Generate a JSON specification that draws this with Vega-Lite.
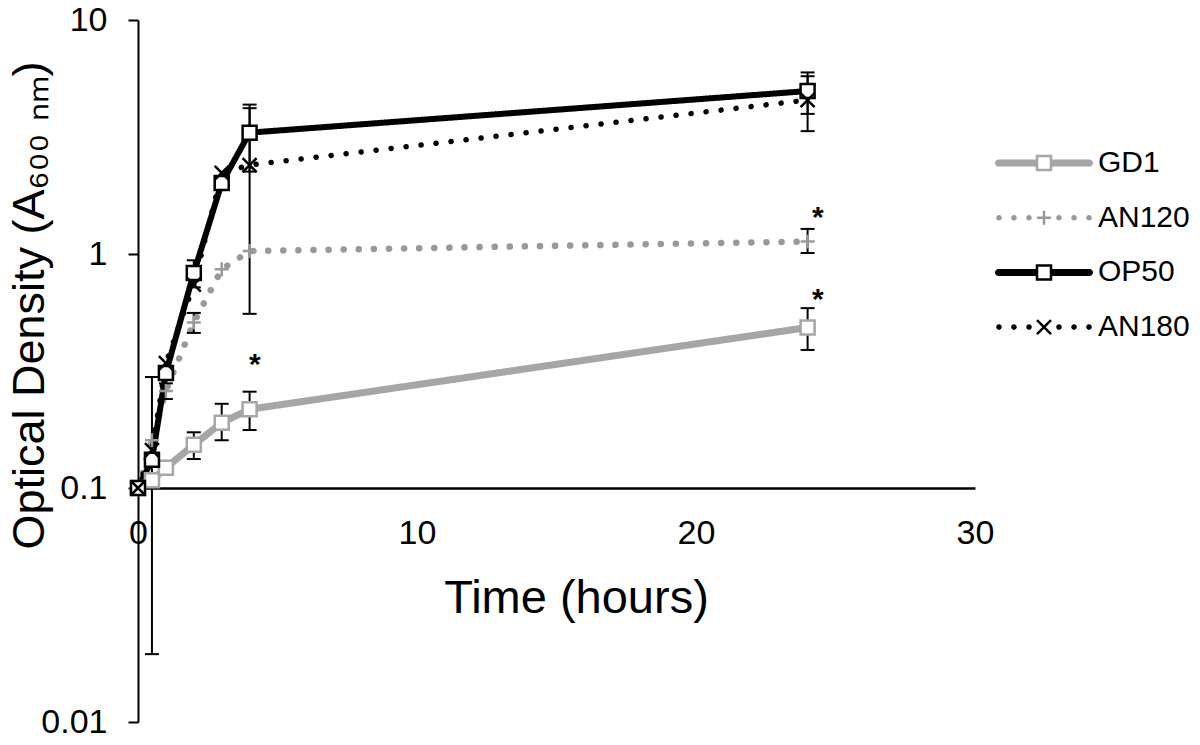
{
  "$schema": "https://vega.github.io/schema/vega-lite/v6.json",
  "width": 837,
  "height": 702,
  "autosize": {"type": "none"},
  "padding": {"left": 138, "top": 20, "right": 225, "bottom": 23},
  "background": "white",
  "config": {
    "view": {"stroke": null},
    "font": "Liberation Sans"
  },
  "datasets": {
    "growth": [
      {"strain": "GD1", "t": 0, "od": 0.1},
      {"strain": "GD1", "t": 0.5, "od": 0.108},
      {"strain": "GD1", "t": 1, "od": 0.122},
      {"strain": "GD1", "t": 2, "od": 0.153, "lo": 0.133, "hi": 0.173},
      {"strain": "GD1", "t": 3, "od": 0.19, "lo": 0.16, "hi": 0.229},
      {"strain": "GD1", "t": 4, "od": 0.217, "lo": 0.177, "hi": 0.258},
      {"strain": "GD1", "t": 24, "od": 0.485, "lo": 0.389, "hi": 0.587},
      {"strain": "AN120", "t": 0, "od": 0.1},
      {"strain": "AN120", "t": 0.5, "od": 0.16, "lo": 0.0195, "hi": 0.298},
      {"strain": "AN120", "t": 1, "od": 0.26, "lo": 0.24, "hi": 0.28},
      {"strain": "AN120", "t": 2, "od": 0.51, "lo": 0.46, "hi": 0.56},
      {"strain": "AN120", "t": 3, "od": 0.86},
      {"strain": "AN120", "t": 4, "od": 1.03},
      {"strain": "AN120", "t": 24, "od": 1.13, "lo": 1.01, "hi": 1.28},
      {"strain": "OP50", "t": 0, "od": 0.1},
      {"strain": "OP50", "t": 0.5, "od": 0.132},
      {"strain": "OP50", "t": 1, "od": 0.31},
      {"strain": "OP50", "t": 2, "od": 0.83, "lo": 0.72, "hi": 0.94},
      {"strain": "OP50", "t": 3, "od": 2.01},
      {"strain": "OP50", "t": 4, "od": 3.3, "lo": 2.25, "hi": 4.35},
      {"strain": "OP50", "t": 24, "od": 4.97, "lo": 3.97, "hi": 5.97},
      {"strain": "AN180", "t": 0, "od": 0.1},
      {"strain": "AN180", "t": 0.5, "od": 0.145},
      {"strain": "AN180", "t": 1, "od": 0.342},
      {"strain": "AN180", "t": 2, "od": 0.74},
      {"strain": "AN180", "t": 3, "od": 2.22},
      {"strain": "AN180", "t": 4, "od": 2.4, "lo": 0.555, "hi": 4.2},
      {"strain": "AN180", "t": 24, "od": 4.55, "lo": 3.35, "hi": 5.75}
    ],
    "stars": [
      {"t": 4.19, "od": 0.363, "label": "*"},
      {"t": 24.37, "od": 1.54, "label": "*"},
      {"t": 24.37, "od": 0.69, "label": "*"}
    ]
  },
  "data": {"name": "growth"},
  "resolve": {
    "scale": {"shape": "independent", "fill": "independent", "stroke": "independent"},
    "legend": {"shape": "independent", "fill": "independent", "stroke": "independent"}
  },
  "encoding": {
    "x": {
      "field": "t", "type": "quantitative",
      "scale": {"domain": [0, 30], "nice": false, "zero": false},
      "axis": {"values": [0, 10, 20, 30], "format": "d", "ticks": false, "tickSize": 0, "labelPadding": 28, "offset": -234, "domainColor": "black", "domainWidth": 2.5, "labelFont": "Liberation Sans", "labelFontSize": 34, "labelColor": "black", "labelFlush": false, "labelOverlap": false, "labelBound": false, "grid": false, "title": "Time (hours)", "titleFont": "Liberation Sans", "titleFontSize": 47, "titleFontWeight": "normal", "titleColor": "black", "titleX": 438, "titleY": 124, "titleBaseline": "alphabetic", "titleAlign": "center"}
    },
    "y": {
      "field": "od", "type": "quantitative",
      "scale": {"type": "log", "domain": [0.01, 10], "nice": false},
      "axis": {"values": [0.01, 0.1, 1, 10], "format": "~g", "tickSize": 10, "tickWidth": 2, "tickColor": "black", "domainColor": "black", "domainWidth": 2, "grid": false, "labelFont": "Liberation Sans", "labelFontSize": 34, "labelColor": "black", "labelPadding": 21, "labelFlush": false, "labelOverlap": false, "labelBound": false, "title": "Optical Density (A₆₀₀ ₙₘ)", "titleFont": "Liberation Sans", "titleFontSize": 45, "titleFontWeight": "normal", "titleColor": "black", "titleAngle": -90, "titleX": -95, "titleY": 285, "titleBaseline": "alphabetic", "titleAlign": "center"}
    }
  },
  "layer": [
    {
      "mark": {"type": "line", "strokeCap": "round", "strokeJoin": "round"},
      "encoding": {
        "color": {
          "field": "strain", "type": "nominal",
          "scale": {"domain": ["GD1", "AN120", "OP50", "AN180"], "range": ["#a6a6a6", "#999999", "#000000", "#000000"]},
          "legend": null
        },
        "strokeDash": {
          "field": "strain", "type": "nominal",
          "scale": {"domain": ["GD1", "AN120", "OP50", "AN180"], "range": [[1, 0], [0.1, 15], [1, 0], [0.1, 15]]},
          "legend": null
        },
        "strokeWidth": {
          "field": "strain", "type": "nominal",
          "scale": {"domain": ["GD1", "AN120", "OP50", "AN180"], "range": [7, 5.5, 7, 5.5]},
          "legend": null
        }
      }
    },
    {
      "mark": {"type": "rule", "color": "black", "strokeWidth": 2},
      "encoding": {
        "y": {"field": "lo", "type": "quantitative", "axis": {"values": [0.01, 0.1, 1, 10], "format": "~g", "tickSize": 10, "tickWidth": 2, "tickColor": "black", "domainColor": "black", "domainWidth": 2, "grid": false, "labelFont": "Liberation Sans", "labelFontSize": 34, "labelColor": "black", "labelPadding": 21, "labelFlush": false, "labelOverlap": false, "labelBound": false, "title": "Optical Density (A₆₀₀ ₙₘ)", "titleFont": "Liberation Sans", "titleFontSize": 45, "titleFontWeight": "normal", "titleColor": "black", "titleAngle": -90, "titleX": -95, "titleY": 285, "titleBaseline": "alphabetic", "titleAlign": "center"}},
        "y2": {"field": "hi"}
      }
    },
    {
      "mark": {"type": "tick", "orient": "horizontal", "color": "black", "size": 14, "thickness": 2, "opacity": 1},
      "encoding": {
        "y": {"field": "lo", "type": "quantitative", "axis": {"values": [0.01, 0.1, 1, 10], "format": "~g", "tickSize": 10, "tickWidth": 2, "tickColor": "black", "domainColor": "black", "domainWidth": 2, "grid": false, "labelFont": "Liberation Sans", "labelFontSize": 34, "labelColor": "black", "labelPadding": 21, "labelFlush": false, "labelOverlap": false, "labelBound": false, "title": "Optical Density (A₆₀₀ ₙₘ)", "titleFont": "Liberation Sans", "titleFontSize": 45, "titleFontWeight": "normal", "titleColor": "black", "titleAngle": -90, "titleX": -95, "titleY": 285, "titleBaseline": "alphabetic", "titleAlign": "center"}}
      }
    },
    {
      "mark": {"type": "tick", "orient": "horizontal", "color": "black", "size": 14, "thickness": 2, "opacity": 1},
      "encoding": {
        "y": {"field": "hi", "type": "quantitative", "axis": {"values": [0.01, 0.1, 1, 10], "format": "~g", "tickSize": 10, "tickWidth": 2, "tickColor": "black", "domainColor": "black", "domainWidth": 2, "grid": false, "labelFont": "Liberation Sans", "labelFontSize": 34, "labelColor": "black", "labelPadding": 21, "labelFlush": false, "labelOverlap": false, "labelBound": false, "title": "Optical Density (A₆₀₀ ₙₘ)", "titleFont": "Liberation Sans", "titleFontSize": 45, "titleFontWeight": "normal", "titleColor": "black", "titleAngle": -90, "titleX": -95, "titleY": 285, "titleBaseline": "alphabetic", "titleAlign": "center"}}
      }
    },
    {
      "mark": {"type": "point", "filled": true, "size": 196, "opacity": 0},
      "encoding": {
        "shape": {
          "field": "strain", "type": "nominal",
          "scale": {"domain": ["GD1", "AN120", "OP50", "AN180"], "range": [
            "M-6.5,-0.5H6.5A0.5,0.5 0 0,1 6.5,0.5H-6.5A0.5,0.5 0 0,1 -6.5,-0.5Z",
            "M-6.83,0a0.4,0.4 0 1,0 0.8,0a0.4,0.4 0 1,0 -0.8,0M-4.69,0a0.4,0.4 0 1,0 0.8,0a0.4,0.4 0 1,0 -0.8,0M-2.54,0a0.4,0.4 0 1,0 0.8,0a0.4,0.4 0 1,0 -0.8,0M1.74,0a0.4,0.4 0 1,0 0.8,0a0.4,0.4 0 1,0 -0.8,0M3.89,0a0.4,0.4 0 1,0 0.8,0a0.4,0.4 0 1,0 -0.8,0M6.03,0a0.4,0.4 0 1,0 0.8,0a0.4,0.4 0 1,0 -0.8,0",
            "M-6.5,-0.5H6.5A0.5,0.5 0 0,1 6.5,0.5H-6.5A0.5,0.5 0 0,1 -6.5,-0.5Z",
            "M-6.83,0a0.4,0.4 0 1,0 0.8,0a0.4,0.4 0 1,0 -0.8,0M-4.69,0a0.4,0.4 0 1,0 0.8,0a0.4,0.4 0 1,0 -0.8,0M-2.54,0a0.4,0.4 0 1,0 0.8,0a0.4,0.4 0 1,0 -0.8,0M1.74,0a0.4,0.4 0 1,0 0.8,0a0.4,0.4 0 1,0 -0.8,0M3.89,0a0.4,0.4 0 1,0 0.8,0a0.4,0.4 0 1,0 -0.8,0M6.03,0a0.4,0.4 0 1,0 0.8,0a0.4,0.4 0 1,0 -0.8,0"
          ]},
          "legend": {"orient": "none", "legendX": 891, "legendY": 128, "title": null, "symbolSize": 196, "symbolStrokeWidth": 0, "symbolOpacity": 1, "labelFont": "Liberation Sans", "labelFontSize": 30, "labelColor": "black", "labelOffset": 39, "rowPadding": 24.7, "padding": 0}
        },
        "fill": {
          "field": "strain", "type": "nominal",
          "scale": {"domain": ["GD1", "AN120", "OP50", "AN180"], "range": ["#a6a6a6", "#999999", "#000000", "#000000"]},
          "legend": {"orient": "none", "legendX": 891, "legendY": 128, "title": null, "symbolSize": 196, "symbolStrokeWidth": 0, "symbolOpacity": 1, "labelFont": "Liberation Sans", "labelFontSize": 30, "labelColor": "black", "labelOffset": 39, "rowPadding": 24.7, "padding": 0}
        }
      }
    },
    {
      "mark": {"type": "point", "filled": true, "fill": "white", "size": 196, "strokeWidth": 2.5, "opacity": 1},
      "encoding": {
        "stroke": {
          "field": "strain", "type": "nominal",
          "scale": {"domain": ["GD1", "AN120", "OP50", "AN180"], "range": ["#a6a6a6", "#999999", "#000000", "#000000"]},
          "legend": {"orient": "none", "legendX": 891, "legendY": 128, "title": null, "symbolSize": 196, "symbolStrokeWidth": 2.5, "symbolFillColor": "white", "symbolOpacity": 1, "labelFont": "Liberation Sans", "labelFontSize": 30, "labelOpacity": 0, "labelOffset": 39, "rowPadding": 24.7, "padding": 0}
        },
        "shape": {
          "field": "strain", "type": "nominal",
          "scale": {"domain": ["GD1", "AN120", "OP50", "AN180"], "range": ["square", "M-1,0H1M0,-1V1", "square", "M-1,-1L1,1M-1,1L1,-1"]},
          "legend": {"orient": "none", "legendX": 891, "legendY": 128, "title": null, "symbolSize": 196, "symbolStrokeWidth": 2.5, "symbolFillColor": "white", "symbolOpacity": 1, "labelFont": "Liberation Sans", "labelFontSize": 30, "labelOpacity": 0, "labelOffset": 39, "rowPadding": 24.7, "padding": 0}
        }
      }
    },
    {
      "data": {"name": "stars"},
      "mark": {"type": "text", "font": "Liberation Sans", "fontSize": 30, "fontWeight": "bold", "color": "black", "baseline": "alphabetic", "align": "center", "dy": 17},
      "encoding": {
        "text": {"field": "label"}
      }
    }
  ]
}
